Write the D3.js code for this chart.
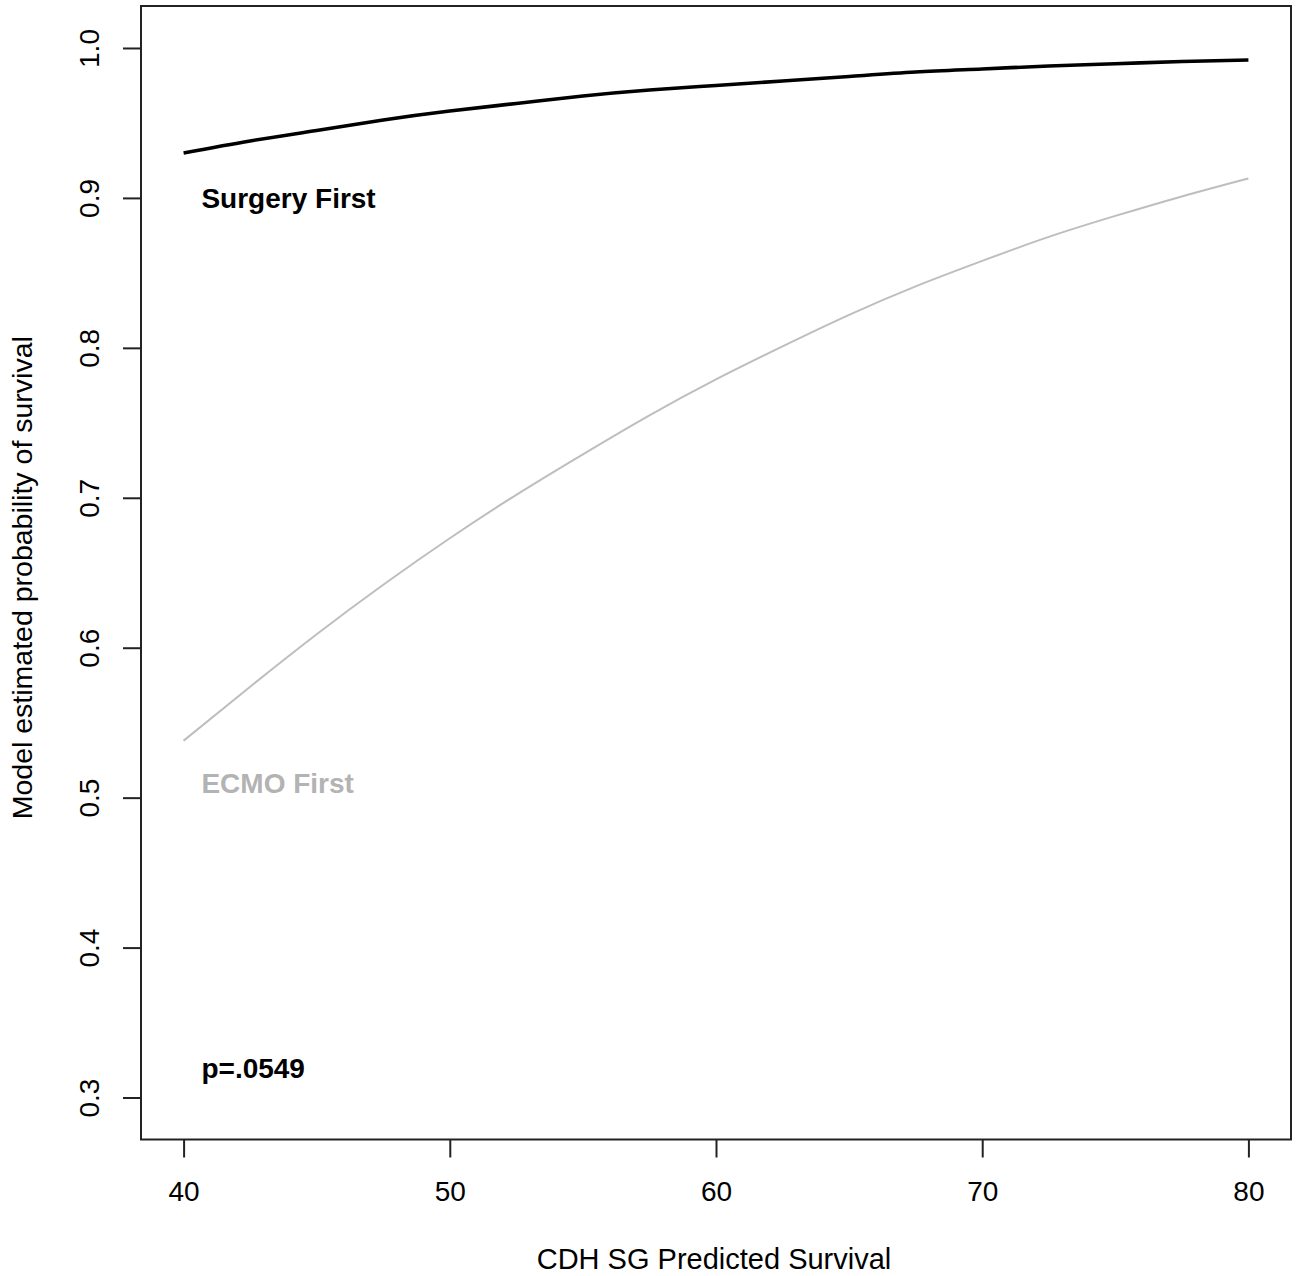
<!DOCTYPE html>
<html>
<head>
<meta charset="utf-8">
<script src="https://cdn.jsdelivr.net/npm/d3@7"></script>
<style>
  html, body { margin: 0; padding: 0; background: #fff; }
  svg { display: block; font-family: "Liberation Sans", Arial, sans-serif; }
</style>
</head>
<body>
<svg id="chart" width="1298" height="1276"></svg>
<script>
// ---- data ----
const predictedSurvival = [40, 42.5, 45, 47.5, 50, 52.5, 55, 57.5, 60, 62.5, 65, 67.5, 70, 72.5, 75, 77.5, 80];
const surgeryFirst = [0.930, 0.938, 0.945, 0.952, 0.958, 0.963, 0.968, 0.972, 0.975, 0.978, 0.981, 0.984, 0.986, 0.988, 0.9895, 0.991, 0.992];
const ecmoFirst    = [0.538, 0.574, 0.609, 0.642, 0.673, 0.702, 0.729, 0.755, 0.779, 0.801, 0.822, 0.841, 0.858, 0.874, 0.888, 0.901, 0.913];
const xTicks = [40, 50, 60, 70, 80];
const yTicks = [0.3, 0.4, 0.5, 0.6, 0.7, 0.8, 0.9, 1.0];
const labels = [
  { text: "Surgery First", x: 40.67, y: 0.90, color: "#000000" },
  { text: "ECMO First",    x: 40.67, y: 0.51, color: "#b3b3b3" },
  { text: "p=.0549",       x: 40.67, y: 0.32, color: "#000000" }
];
const xTitle = "CDH SG Predicted Survival";
const yTitle = "Model estimated probability of survival";

// ---- layout ----
const svg = d3.select("#chart");
const mLeft = 141, mRight = 1291, mTop = 6, mBottom = 1139.5;
const x = d3.scaleLinear().domain([38.4, 81.6]).range([mLeft, mRight]);
const y = d3.scaleLinear().domain([0.272, 1.028]).range([mBottom, mTop]);

// box
svg.append("rect")
  .attr("x", mLeft).attr("y", mTop)
  .attr("width", mRight - mLeft).attr("height", mBottom - mTop)
  .attr("fill", "none").attr("stroke", "#222").attr("stroke-width", 2);

// x axis
const gx = svg.append("g")
  .attr("transform", `translate(0,${mBottom})`)
  .call(d3.axisBottom(x).tickValues(xTicks).tickSize(18).tickPadding(24).tickFormat(d3.format("d")));
gx.select(".domain").remove();
gx.selectAll(".tick line").attr("stroke", "#222").attr("stroke-width", 2);
gx.selectAll(".tick text").attr("font-size", 28).attr("fill", "#000").attr("font-family", "Liberation Sans, Arial, sans-serif");

// y axis
const gy = svg.append("g")
  .attr("transform", `translate(${mLeft},0)`)
  .call(d3.axisLeft(y).tickValues(yTicks).tickSize(18).tickFormat(d3.format(".1f")));
gy.select(".domain").remove();
gy.selectAll(".tick line").attr("stroke", "#222").attr("stroke-width", 2);
gy.selectAll(".tick text")
  .attr("font-size", 28).attr("fill", "#000")
  .attr("font-family", "Liberation Sans, Arial, sans-serif")
  .attr("x", null).attr("dy", null)
  .attr("text-anchor", "middle")
  .attr("transform", "translate(-42,0) rotate(-90)");

// lines
const line = d3.line().x(d => x(d[0])).y(d => y(d[1])).curve(d3.curveNatural);
svg.append("path")
  .datum(predictedSurvival.map((v, i) => [v, ecmoFirst[i]]))
  .attr("d", line).attr("fill", "none").attr("stroke", "#bebebe").attr("stroke-width", 2);
svg.append("path")
  .datum(predictedSurvival.map((v, i) => [v, surgeryFirst[i]]))
  .attr("d", line).attr("fill", "none").attr("stroke", "#000").attr("stroke-width", 3.6);

// annotation labels
svg.selectAll("text.lab").data(labels).enter().append("text")
  .attr("class", "lab")
  .attr("x", d => x(d.x)).attr("y", d => y(d.y))
  .attr("dy", "0.36em")
  .attr("font-size", 28).attr("font-weight", "bold")
  .attr("fill", d => d.color)
  .text(d => d.text);

// titles
svg.append("text")
  .attr("x", (mLeft + mRight) / 2 - 2).attr("y", 1269)
  .attr("text-anchor", "middle").attr("font-size", 29).attr("fill", "#000")
  .text(xTitle);
svg.append("text")
  .attr("transform", `translate(32,${(mTop + mBottom) / 2 + 5}) rotate(-90)`)
  .attr("text-anchor", "middle").attr("font-size", 28.5).attr("fill", "#000")
  .text(yTitle);
</script>
</body>
</html>
